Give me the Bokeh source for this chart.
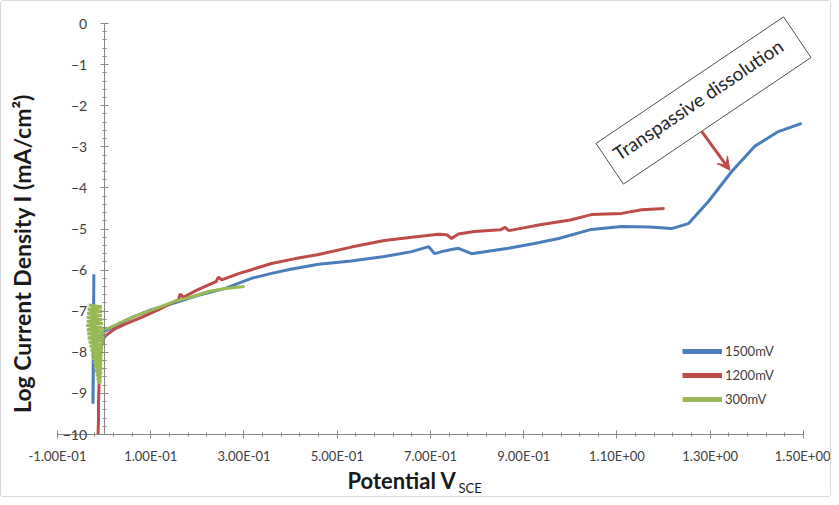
import math
from bokeh.plotting import figure
from bokeh.models import (FixedTicker, CustomJSTickFormatter, Label, Range1d,
                          Arrow, VeeHead, Legend, LegendItem)
from bokeh.embed import file_html
from bokeh.resources import INLINE

# ---- data ----
series_names = ["1500mV", "1200mV", "300mV"]

blue_v = [-0.022, -0.024, -0.023, -0.021, -0.015, -0.008, 0.0, 0.02, 0.06, 0.10, 0.15, 0.20,
          0.258, 0.316, 0.359, 0.40, 0.460, 0.530, 0.601, 0.660, 0.696, 0.709, 0.724, 0.745,
          0.760, 0.788, 0.867, 0.920, 0.975, 1.045, 1.110, 1.170, 1.217, 1.253, 1.296, 1.346,
          1.395, 1.446, 1.496]
blue_i = [-6.1, -9.25, -8.4, -7.9, -7.7, -7.6, -7.5, -7.38, -7.15, -6.97, -6.80, -6.62,
          -6.45, -6.20, -6.08, -5.98, -5.86, -5.78, -5.67, -5.55, -5.43, -5.60, -5.55, -5.50,
          -5.47, -5.60, -5.47, -5.36, -5.23, -5.01, -4.94, -4.95, -4.99, -4.87, -4.33, -3.60,
          -2.99, -2.63, -2.43]

red_v = [-0.013, -0.012, -0.012, -0.011, -0.010, -0.008, -0.005, 0.001, 0.020, 0.044, 0.080,
         0.117, 0.145, 0.160, 0.163, 0.170, 0.200, 0.240, 0.245, 0.252, 0.290, 0.316, 0.359,
         0.410, 0.460, 0.530, 0.601, 0.660, 0.717, 0.735, 0.745, 0.760, 0.794, 0.850, 0.860,
         0.868, 0.938, 1.000, 1.045, 1.110, 1.153, 1.202]
red_i = [-10.0, -9.6, -9.2, -8.8, -8.4, -8.0, -7.8, -7.62, -7.45, -7.32, -7.15,
         -6.96, -6.80, -6.72, -6.58, -6.66, -6.48, -6.28, -6.17, -6.24, -6.08, -5.99, -5.84,
         -5.72, -5.62, -5.44, -5.28, -5.20, -5.13, -5.14, -5.23, -5.12, -5.06, -5.02, -4.96,
         -5.04, -4.89, -4.78, -4.65, -4.62, -4.53, -4.50]

# noisy band near the corrosion potential, then the anodic branch
green_v = [-0.033, -0.005, -0.035, -0.004, -0.036, -0.005, -0.037, -0.004, -0.037, -0.003,
           -0.038, -0.004, -0.037, -0.003, -0.036, -0.004, -0.035, -0.004, -0.033, -0.004,
           -0.031, -0.005, -0.029, -0.004, -0.027, -0.005, -0.025, -0.004, -0.023, -0.005,
           -0.021, -0.004, -0.019, -0.005, -0.017, -0.006, -0.015, -0.007, -0.012,
           -0.002, 0.009, 0.040, 0.080, 0.115, 0.151, 0.185, 0.224, 0.260, 0.301]
green_i = [-6.85, -6.90, -6.95, -7.00, -7.05, -7.10, -7.15, -7.20, -7.25, -7.30,
           -7.35, -7.40, -7.45, -7.50, -7.55, -7.60, -7.65, -7.70, -7.75, -7.80,
           -7.85, -7.90, -7.95, -8.00, -8.05, -8.10, -8.15, -8.20, -8.25, -8.30,
           -8.35, -8.40, -8.45, -8.50, -8.55, -8.60, -8.65, -8.70, -8.75,
           -7.45, -7.42, -7.25, -7.06, -6.92, -6.76, -6.66, -6.52, -6.45, -6.40]

x_ticks = [-0.1, 0.1, 0.3, 0.5, 0.7, 0.9, 1.1, 1.3, 1.5]
y_ticks = [0, -1, -2, -3, -4, -5, -6, -7, -8, -9, -10]
x_bounds = (-0.1, 1.5)
y_bounds = (-10, 0)

annotation_text = "Transpassive dissolution"
x_title = "Potential V"
x_title_sub = "SCE"
y_title = "Log Current Density I (mA/cm\u00b2)"

# ---- styling ----
FONT = "Lato"
colors = ["#4a7ebb", "#be4b48", "#98b954"]

# the frame covers the whole canvas so that titles placed outside the
# axis box are not clipped; axes are pinned with fixed_location + bounds
p = figure(width=831, height=497, output_backend="svg", toolbar_location=None,
           x_range=Range1d(-0.2201, 1.5622), y_range=Range1d(-11.557, 0.5353),
           min_border=0)
p.min_border_left = 0
p.min_border_right = 0
p.min_border_top = 0
p.min_border_bottom = 0
p.styles = {"border": "1px solid #d9d9d9", "border-radius": "3px"}
p.xgrid.visible = False
p.ygrid.visible = False
p.outline_line_color = None
p.background_fill_color = "white"
p.border_fill_color = "white"

p.xaxis.ticker = FixedTicker(ticks=x_ticks,
                             minor_ticks=[round(-0.1 + 0.04 * k, 4) for k in range(41)])
p.xaxis.formatter = CustomJSTickFormatter(code="""
    const s = tick.toExponential(2).split('e');
    const ex = parseInt(s[1]);
    const a = Math.abs(ex);
    return s[0] + 'E' + (ex < 0 ? '-' : '+') + (a < 10 ? '0' + a : '' + a);
""")
p.xaxis.fixed_location = y_bounds[0]
p.xaxis.bounds = x_bounds

p.yaxis.ticker = FixedTicker(ticks=y_ticks,
                             minor_ticks=[round(-10 + 0.2 * k, 4) for k in range(51)])
p.yaxis.fixed_location = 0
p.yaxis.bounds = y_bounds

for ax in (p.xaxis[0], p.yaxis[0]):
    ax.axis_line_color = "#868686"
    ax.major_tick_line_color = "#868686"
    ax.minor_tick_line_color = "#868686"
    ax.major_tick_in = 4
    ax.major_tick_out = 4
    ax.minor_tick_in = 2
    ax.minor_tick_out = 2
    ax.major_label_text_font = FONT
    ax.major_label_text_color = "#404040"
p.xaxis.major_label_text_font_size = "13px"
p.yaxis.major_label_text_font_size = "14px"
p.xaxis.major_label_standoff = 9
p.yaxis.major_label_standoff = 13

# ---- series ----
series = [(blue_v, blue_i), (red_v, red_i), (green_v, green_i)]
items = []
for (vx, iy), c, name in zip(series, colors, series_names):
    p.line(vx, iy, line_color=c, line_width=3)
    # single-point renderer (draws nothing) used only for a thicker legend swatch
    swatch = p.line(vx[:1], iy[:1], line_color=c, line_width=5)
    items.append(LegendItem(label=name, renderers=[swatch]))

leg = Legend(items=items, location=(681, 89), padding=0, margin=0, spacing=4,
             glyph_width=40, glyph_height=20, label_height=20, label_standoff=3,
             label_text_font=FONT, label_text_font_size="13px", label_text_color="#404040",
             background_fill_alpha=0, border_line_alpha=0)
p.add_layout(leg)

# ---- annotation box + arrow ----
ann_x, ann_y, ann_angle = 1.2855, -1.873, math.radians(34)
p.add_layout(Label(x=ann_x, y=ann_y, text=annotation_text, angle=ann_angle,
                   text_align="center", text_baseline="middle", text_font=FONT,
                   text_font_size="19px", text_color="#262626", padding=(9, 17, 9, 17),
                   background_fill_color="white", border_line_color="#505050",
                   border_line_width=1))
p.add_layout(Arrow(end=VeeHead(size=13, line_color="#be4b48", fill_color="#be4b48"),
                   x_start=1.282, y_start=-2.63, x_end=1.342, y_end=-3.57,
                   line_color="#be4b48", line_width=3))

# ---- titles ----
p.add_layout(Label(x=0.7558, y=-11.13, text=x_title, text_align="right",
                   text_font=FONT, text_font_style="bold", text_font_size="22px",
                   text_baseline="middle", text_color="#1a1a1a"))
p.add_layout(Label(x=0.760, y=-11.30, text=x_title_sub,
                   text_font=FONT, text_font_size="13px",
                   text_baseline="middle", text_color="#1a1a1a"))
p.add_layout(Label(x=-0.1772, y=-5.596, text=y_title,
                   angle=math.pi / 2, text_font=FONT, text_font_style="bold",
                   text_font_size="23px", text_align="center", text_baseline="middle",
                   text_color="#1a1a1a"))

open("out.html", "w").write(file_html(p, INLINE))
